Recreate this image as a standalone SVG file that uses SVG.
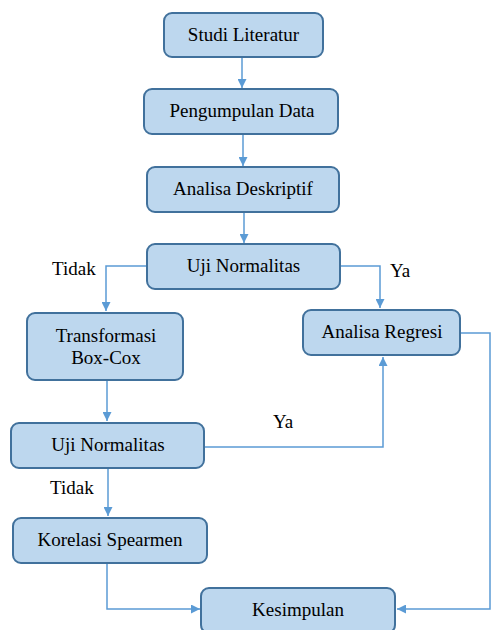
<svg xmlns="http://www.w3.org/2000/svg" width="492" height="630" viewBox="0 0 492 630">
<style>
.box{fill:#BDD7EE;stroke:#41719C;stroke-width:2}
.t{text-anchor:middle}
.c{fill:none;stroke:#5B9BD5;stroke-width:1.5}
</style>
<defs>
<marker id="ah" viewBox="0 0 10 10" refX="10" refY="5" markerWidth="9" markerHeight="9" markerUnits="userSpaceOnUse" orient="auto">
<path d="M0,0 L10,5 L0,10 Z" fill="#5B9BD5"/>
</marker>
</defs>
<rect width="492" height="630" fill="#fff"/>
<g id="connectors">
<path class="c" d="M242,57 V88" marker-end="url(#ah)"/>
<path class="c" d="M243,134 V166" marker-end="url(#ah)"/>
<path class="c" d="M244,212 V243" marker-end="url(#ah)"/>
<path class="c" d="M147,266 H106 V311" marker-end="url(#ah)"/>
<path class="c" d="M340,266 H380 V308" marker-end="url(#ah)"/>
<path class="c" d="M107,380 V421" marker-end="url(#ah)"/>
<path class="c" d="M204,447 H383 V357" marker-end="url(#ah)"/>
<path class="c" d="M108,468 V516" marker-end="url(#ah)"/>
<path class="c" d="M107,563 V609 H200" marker-end="url(#ah)"/>
<path class="c" d="M460,333 H490 V609 H397" marker-end="url(#ah)"/>
</g>
<g font-family="'Liberation Serif', 'Times New Roman', serif" font-size="19" fill="#000">
<g id="studi"><rect class="box" x="164" y="13" width="159" height="44" rx="8"/><text class="t" x="243.5" y="41">Studi Literatur</text></g>
<g id="pengumpulan"><rect class="box" x="144" y="89" width="194" height="45" rx="8"/><text class="t" x="242" y="117">Pengumpulan Data</text></g>
<g id="deskriptif"><rect class="box" x="147" y="167" width="192" height="45" rx="8"/><text class="t" x="243" y="195">Analisa Deskriptif</text></g>
<g id="uji1"><rect class="box" x="147" y="244" width="193" height="45" rx="8"/><text class="t" x="243.5" y="272">Uji Normalitas</text></g>
<g id="boxcox"><rect class="box" x="27" y="313" width="156" height="67" rx="8"/><text class="t" x="106" y="342">Transformasi</text><text class="t" x="106" y="364">Box-Cox</text></g>
<g id="regresi"><rect class="box" x="303" y="310" width="157" height="45" rx="8"/><text class="t" x="382" y="338">Analisa Regresi</text></g>
<g id="uji2"><rect class="box" x="11" y="423" width="193" height="45" rx="8"/><text class="t" x="108" y="451">Uji Normalitas</text></g>
<g id="korelasi"><rect class="box" x="13" y="518" width="194" height="45" rx="8"/><text class="t" x="110" y="546">Korelasi Spearmen</text></g>
<g id="kesimpulan"><rect class="box" x="201" y="588" width="194" height="45" rx="8"/><text class="t" x="298" y="616">Kesimpulan</text></g>
<g id="labels">
<text x="52" y="275">Tidak</text>
<text x="390" y="277">Ya</text>
<text x="273" y="428">Ya</text>
<text x="50" y="494">Tidak</text>
</g>
</g>
</svg>
